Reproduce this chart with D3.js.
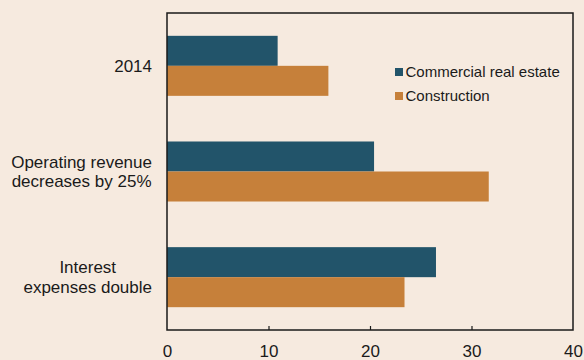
<!DOCTYPE html>
<html>
<head>
<meta charset="utf-8">
<script src="https://cdn.jsdelivr.net/npm/d3@7"></script>
<style>
  html, body { margin: 0; padding: 0; background: #F6EADF; }
  svg { display: block; font-family: "Liberation Sans", Arial, sans-serif; }
</style>
</head>
<body>
<svg id="chart" width="584" height="360"></svg>
<script>
// Scenario categories (each label may span several lines)
const categories = [
  ["2014"],
  ["Operating revenue", "decreases by 25%"],
  ["Interest", "expenses double"]
];
const seriesNames = ["Commercial real estate", "Construction"];
const commercialRealEstate = [10.9, 20.4, 26.5];
const construction = [15.9, 31.7, 23.4];
const xTicks = [0, 10, 20, 30, 40];

const colors = ["#22546A", "#C6803A"];
const values = [commercialRealEstate, construction];

const W = 584, H = 360;
const margin = { left: 167, right: 11, top: 13, bottom: 30 };
const svg = d3.select("#chart");

const x = d3.scaleLinear().domain([0, 40]).range([margin.left, W - margin.right]);
const y = d3.scaleBand()
  .domain(d3.range(categories.length))
  .range([margin.top, H - margin.bottom])
  .paddingInner(0.432)
  .paddingOuter(0.216);
const ySub = d3.scaleBand().domain(d3.range(seriesNames.length)).range([0, y.bandwidth()]);

// Bars
categories.forEach((_, i) => {
  const g = svg.append("g").attr("transform", `translate(0,${y(i)})`);
  g.selectAll("rect")
    .data(values.map((v, s) => ({ v: v[i], s })))
    .join("rect")
    .attr("x", x(0))
    .attr("y", d => ySub(d.s))
    .attr("width", d => x(d.v) - x(0))
    .attr("height", ySub.bandwidth())
    .attr("fill", d => colors[d.s]);
});

// Frame
svg.append("rect")
  .attr("x", x(0)).attr("y", margin.top)
  .attr("width", x(40) - x(0)).attr("height", H - margin.bottom - margin.top)
  .attr("fill", "none").attr("stroke", "#1a1a1a").attr("stroke-width", 1.5);

// Bottom axis with inward ticks
const xAxis = d3.axisBottom(x).tickValues(xTicks).tickSizeInner(-4).tickSizeOuter(0).tickPadding(14.5);
const ax = svg.append("g")
  .attr("transform", `translate(0,${H - margin.bottom})`)
  .call(xAxis);
ax.select(".domain").remove();
ax.selectAll(".tick line").attr("stroke", "#1a1a1a").attr("stroke-width", 1.2);
ax.selectAll(".tick text")
  .attr("font-size", 17).attr("fill", "#1a1a1a")
  .attr("font-family", "Liberation Sans, Arial, sans-serif");
ax.selectAll(".tick").filter(d => d === 0 || d === 40).select("line").remove();

// Category labels: block right-aligned to the axis, lines centred within the block
const lineH = 19.5;
const labelRight = 152;
categories.forEach((lines, i) => {
  const cy = y(i) + y.bandwidth() / 2;
  const t = svg.append("text")
    .attr("text-anchor", "middle")
    .attr("font-size", 17)
    .attr("fill", "#1a1a1a");
  const spans = lines.map((ln, k) =>
    t.append("tspan")
      .attr("y", cy + (k - (lines.length - 1) / 2) * lineH + 6)
      .text(ln));
  const maxW = d3.max(spans, s => s.node().getComputedTextLength());
  spans.forEach(s => s.attr("x", labelRight - maxW / 2));
});

// Legend
const legend = svg.append("g");
seriesNames.forEach((name, s) => {
  const ly = 72 + s * 24;
  legend.append("rect")
    .attr("x", 395).attr("y", ly - 4).attr("width", 8).attr("height", 8)
    .attr("fill", colors[s]);
  legend.append("text")
    .attr("x", 405.5).attr("y", ly + 5.4)
    .attr("font-size", 15)
    .attr("fill", "#1a1a1a")
    .text(name);
});
</script>
</body>
</html>
